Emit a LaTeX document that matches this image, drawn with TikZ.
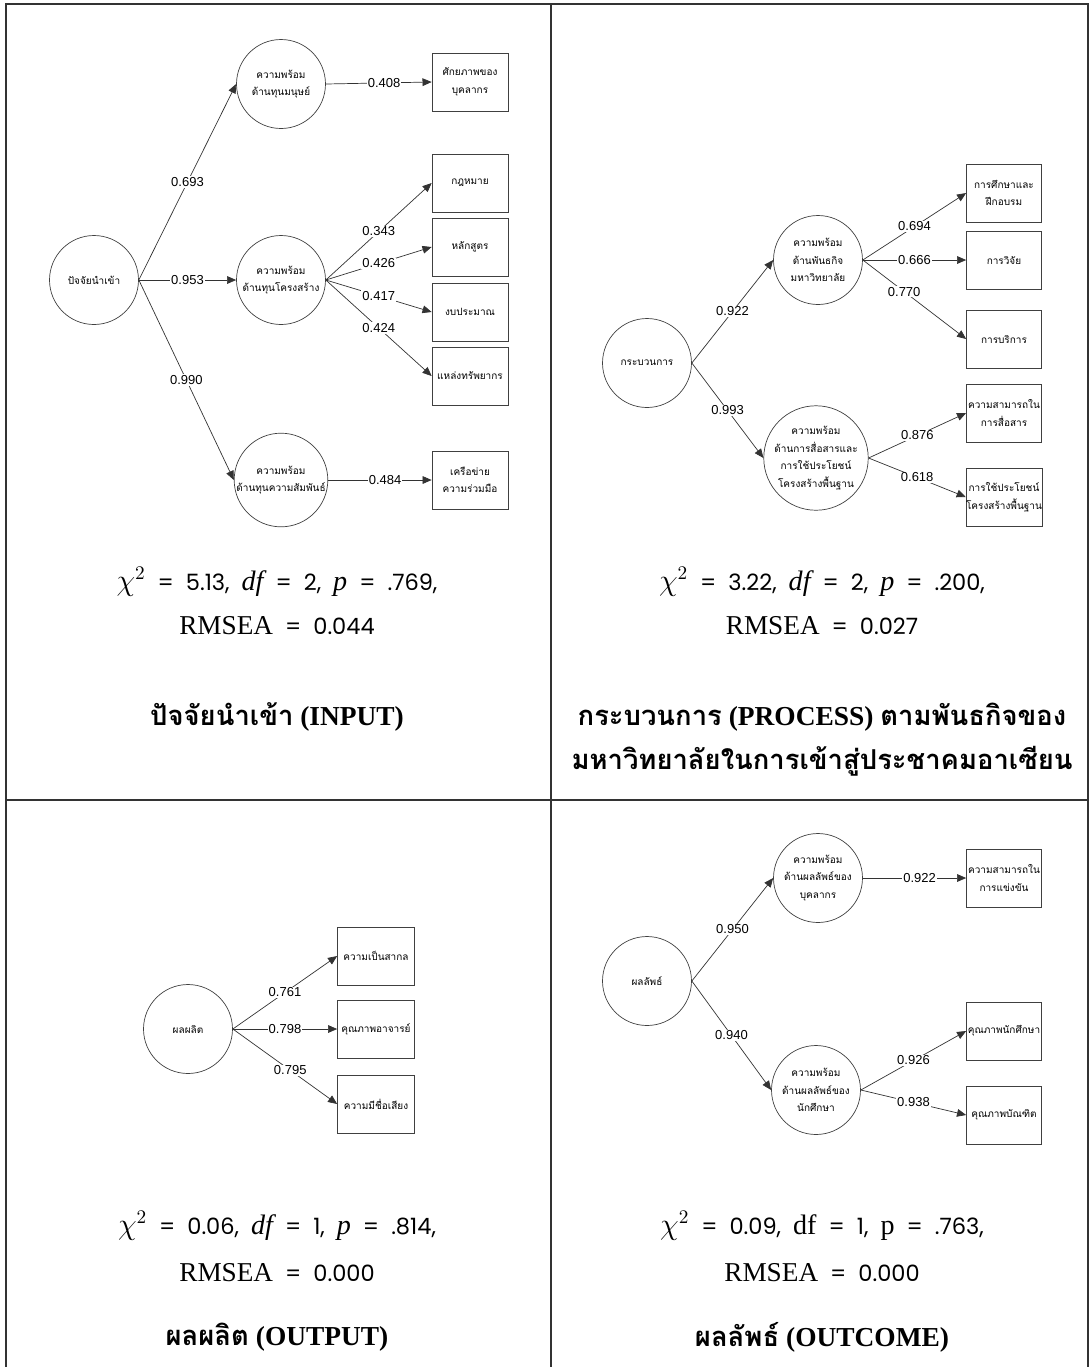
\documentclass[tikz,border=0pt]{standalone}
\usepackage{fontspec}
\setmainfont{Liberation Serif}
\newfontfamily\thaifont[Script=Thai]{Loma}
\newfontfamily\labelfont{Liberation Sans}
\newfontfamily\statfont{Poppins}
\usetikzlibrary{arrows.meta}
\tikzset{
	latent/.style={circle,draw=black!75,line width=0.4pt,minimum size=1.78cm,inner sep=0pt,align=center,font=\thaifont\fontsize{5.7}{10}\selectfont},
	item/.style={rectangle,draw=black!75,line width=0.4pt,minimum width=1.52cm,minimum height=1.16cm,inner sep=0pt,align=center,font=\thaifont\fontsize{5.7}{10}\selectfont},
	load/.style={-{Triangle[length=5.2pt,width=4.4pt]},draw=black!80,line width=0.4pt},
	coef/.style={fill=white,inner sep=0.6pt,font=\labelfont\fontsize{7.4}{8}\selectfont},
	fitline/.style={font=\statfont\fontsize{12.8}{15}\selectfont},
	heading/.style={align=center,font=\bfseries\fontsize{15.6}{25}\selectfont}
}

\begin{document}
\begin{tikzpicture}[x=0.02cm,y=-0.02cm]
\useasboundingbox (0,0) rectangle (1090,1367);
\draw[line width=1.1pt,black!80] (6,1367) -- (6,4) -- (1088,4) -- (1088,1367);
\draw[line width=1.1pt,black!80] (551,4) -- (551,1367);
\draw[line width=1.1pt,black!80] (6,800) -- (1088,800);

\node[latent] (in) at (94,280) {ปัจจัยนำเข้า};
\node[latent] (in-1) at (281,84) {ความพร้อม\\ด้านทุนมนุษย์};
\node[latent] (in-2) at (281,280) {ความพร้อม\\ด้านทุนโครงสร้าง};
\node[latent] (in-3) at (281,480) {ความพร้อม\\ด้านทุนความสัมพันธ์};
\node[item] (in-1-1) at (470,82) {ศักยภาพของ\\บุคลากร};
\node[item] (in-2-1) at (470,183) {กฎหมาย};
\node[item] (in-2-2) at (470,247) {หลักสูตร};
\node[item] (in-2-3) at (470,312) {งบประมาณ};
\node[item] (in-2-4) at (470,376) {แหล่งทรัพยากร};
\node[item] (in-3-1) at (470,480) {เครือข่าย\\ความร่วมมือ};
\draw[load] (in.east) -- node[coef]{0.693} (in-1.west);
\draw[load] (in.east) -- node[coef]{0.953} (in-2.west);
\draw[load] (in.east) -- node[coef]{0.990} (in-3.west);
\draw[load] (in-1.east) -- node[coef,pos=0.55]{0.408} (in-1-1.west);
\draw[load] (in-2.east) -- node[coef]{0.343} (in-2-1.west);
\draw[load] (in-2.east) -- node[coef]{0.426} (in-2-2.west);
\draw[load] (in-2.east) -- node[coef]{0.417} (in-2-3.west);
\draw[load] (in-2.east) -- node[coef]{0.424} (in-2-4.west);
\draw[load] (in-3.east) -- node[coef,pos=0.55]{0.484} (in-3-1.west);

\node[latent] (pr) at (647,363) {กระบวนการ};
\node[latent] (pr-1) at (818,260) {ความพร้อม\\ด้านพันธกิจ\\มหาวิทยาลัย};
\node[latent] (pr-2) at (816,458) {ความพร้อม\\ด้านการสื่อสารและ\\การใช้ประโยชน์\\โครงสร้างพื้นฐาน};
\node[item,minimum width=1.5cm] (pr-1-1) at (1004,193) {การศึกษาและ\\ฝึกอบรม};
\node[item,minimum width=1.5cm] (pr-1-2) at (1004,260) {การวิจัย};
\node[item,minimum width=1.5cm] (pr-1-3) at (1004,339) {การบริการ};
\node[item,minimum width=1.5cm] (pr-2-1) at (1004,413) {ความสามารถใน\\การสื่อสาร};
\node[item,minimum width=1.5cm] (pr-2-2) at (1004,497) {การใช้ประโยชน์\\โครงสร้างพื้นฐาน};
\draw[load] (pr.east) -- node[coef]{0.922} (pr-1.west);
\draw[load] (pr.east) -- node[coef]{0.993} (pr-2.west);
\draw[load] (pr-1.east) -- node[coef]{0.694} (pr-1-1.west);
\draw[load] (pr-1.east) -- node[coef]{0.666} (pr-1-2.west);
\draw[load] (pr-1.east) -- node[coef,pos=0.4]{0.770} (pr-1-3.west);
\draw[load] (pr-2.east) -- node[coef]{0.876} (pr-2-1.west);
\draw[load] (pr-2.east) -- node[coef]{0.618} (pr-2-2.west);

\node[latent] (op) at (188,1029) {ผลผลิต};
\node[item,minimum width=1.54cm] (op-1) at (376,956) {ความเป็นสากล};
\node[item,minimum width=1.54cm] (op-2) at (376,1029) {คุณภาพอาจารย์};
\node[item,minimum width=1.54cm] (op-3) at (376,1104) {ความมีชื่อเสียง};
\draw[load] (op.east) -- node[coef]{0.761} (op-1.west);
\draw[load] (op.east) -- node[coef]{0.798} (op-2.west);
\draw[load] (op.east) -- node[coef,pos=0.55]{0.795} (op-3.west);

\node[latent] (oc) at (647,981) {ผลลัพธ์};
\node[latent] (oc-1) at (818,878) {ความพร้อม\\ด้านผลลัพธ์ของ\\บุคลากร};
\node[latent] (oc-2) at (816,1090) {ความพร้อม\\ด้านผลลัพธ์ของ\\นักศึกษา};
\node[item,minimum width=1.5cm] (oc-1-1) at (1004,878) {ความสามารถใน\\การแข่งขัน};
\node[item,minimum width=1.5cm] (oc-2-1) at (1004,1031) {คุณภาพนักศึกษา};
\node[item,minimum width=1.5cm] (oc-2-2) at (1004,1115) {คุณภาพบัณฑิต};
\draw[load] (oc.east) -- node[coef]{0.950} (oc-1.west);
\draw[load] (oc.east) -- node[coef]{0.940} (oc-2.west);
\draw[load] (oc-1.east) -- node[coef,pos=0.55]{0.922} (oc-1-1.west);
\draw[load] (oc-2.east) -- node[coef]{0.926} (oc-2-1.west);
\draw[load] (oc-2.east) -- node[coef]{0.938} (oc-2-2.west);

\node[fitline] (in-fit) at (277,582) {{\fontsize{16}{16}\selectfont$\chi^{2}$}\ \ =\ \ 5.13,\ \ {\rmfamily\itshape\fontsize{16}{16}\selectfont df}\ \ =\ \ 2,\ \ {\rmfamily\itshape\fontsize{16}{16}\selectfont p}\ \ =\ \ .769,};
\node[fitline] (in-rmsea) at (277,626) {{\rmfamily\fontsize{15.5}{15}\selectfont RMSEA}\ \ =\ \ 0.044};
\node[heading] (in-title) at (277,717) {{\thaifont ปัจจัยนำเข้า} (INPUT)};

\node[fitline] (pr-fit) at (822,582) {{\fontsize{16}{16}\selectfont$\chi^{2}$}\ \ =\ \ 3.22,\ \ {\rmfamily\itshape\fontsize{16}{16}\selectfont df}\ \ =\ \ 2,\ \ {\rmfamily\itshape\fontsize{16}{16}\selectfont p}\ \ =\ \ .200,};
\node[fitline] (pr-rmsea) at (822,626) {{\rmfamily\fontsize{15.5}{15}\selectfont RMSEA}\ \ =\ \ 0.027};
\node[heading] (pr-title) at (822,740) {{\thaifont กระบวนการ} (PROCESS) {\thaifont ตามพันธกิจของ}\\{\thaifont มหาวิทยาลัยในการเข้าสู่ประชาคมอาเซียน}};

\node[fitline] (op-fit) at (277,1226) {{\fontsize{16}{16}\selectfont$\chi^{2}$}\ \ =\ \ 0.06,\ \ {\rmfamily\itshape\fontsize{16}{16}\selectfont df}\ \ =\ \ 1,\ \ {\rmfamily\itshape\fontsize{16}{16}\selectfont p}\ \ =\ \ .814,};
\node[fitline] (op-rmsea) at (277,1273) {{\rmfamily\fontsize{15.5}{15}\selectfont RMSEA}\ \ =\ \ 0.000};
\node[heading] (op-title) at (277,1337) {{\thaifont ผลผลิต} (OUTPUT)};

\node[fitline] (oc-fit) at (822,1226) {{\fontsize{16}{16}\selectfont$\chi^{2}$}\ \ =\ \ 0.09,\ \ {\rmfamily\fontsize{16}{16}\selectfont df}\ \ =\ \ 1,\ \ {\rmfamily\fontsize{16}{16}\selectfont p}\ \ =\ \ .763,};
\node[fitline] (oc-rmsea) at (822,1273) {{\rmfamily\fontsize{15.5}{15}\selectfont RMSEA}\ \ =\ \ 0.000};
\node[heading] (oc-title) at (822,1337) {{\thaifont ผลลัพธ์} (OUTCOME)};
\end{tikzpicture}
\end{document}
